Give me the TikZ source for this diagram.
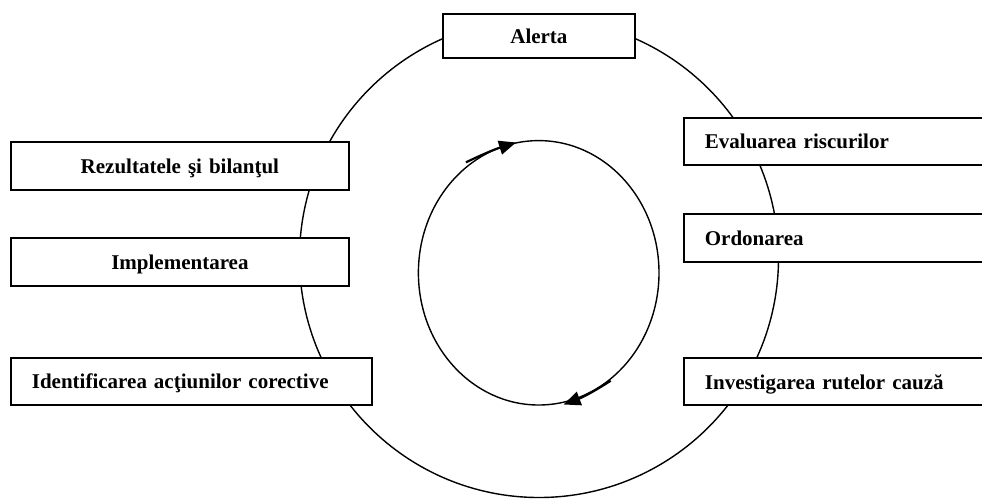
\documentclass[tikz,border=0pt]{standalone}
\usepackage{fontspec}
\setmainfont{Liberation Serif}
\usetikzlibrary{arrows.meta}
\begin{document}
\begin{tikzpicture}[x=1pt,y=-1pt,
  box/.style={draw, line width=1.8pt, fill=white, rectangle, anchor=north west,
    font=\fontsize{21}{25}\selectfont\bfseries, text height=19pt, text depth=4pt,
    inner ysep=0pt},
  lbox/.style={box, align=left, inner xsep=21pt},
  cbox/.style={box, align=center, inner xsep=0pt},
  ring/.style={line width=1.4pt},
  cyc/.style={line width=2.2pt, -{Triangle[length=17pt,width=14pt]}}]
\useasboundingbox (0,0) rectangle (982,499);
\clip (0,0) rectangle (982,499);
% outer circle and inner cycle
\draw[ring] (539,258) circle[radius=239.5];
\draw[ring] (538.7,272.8) ellipse[x radius=120.3, y radius=132.2];
\coordinate (a1s) at (466,162.3);
\coordinate (a1e) at (516,142.5);
\coordinate (a2s) at (610.7,380.7);
\coordinate (a2e) at (563.5,404.5);
\draw[cyc] (a1s) to[bend left=4] (a1e);
\draw[cyc] (a2s) to[bend left=6] (a2e);
% boxes
\node[cbox, text width=192pt, minimum height=44pt] (alerta) at (442,12.7) {Alerta};
\node[lbox, text width=272pt, minimum height=47.6pt] (eval) at (683,116.7) {Evaluarea riscurilor};
\node[lbox, text width=272pt, minimum height=48pt] (ord) at (683,212.7) {Ordonarea};
\node[lbox, text width=272pt, minimum height=47pt] (inv) at (683,357.3) {Investigarea rutelor cauză};
\node[cbox, text width=338pt, minimum height=48pt] (rez) at (10,141) {Rezultatele şi bilanţul};
\node[cbox, text width=338pt, minimum height=48.3pt] (impl) at (10,236.7) {Implementarea};
\node[lbox, text width=319pt, minimum height=47.3pt] (ident) at (10,356.7) {Identificarea acţiunilor corective};
\end{tikzpicture}
\end{document}
